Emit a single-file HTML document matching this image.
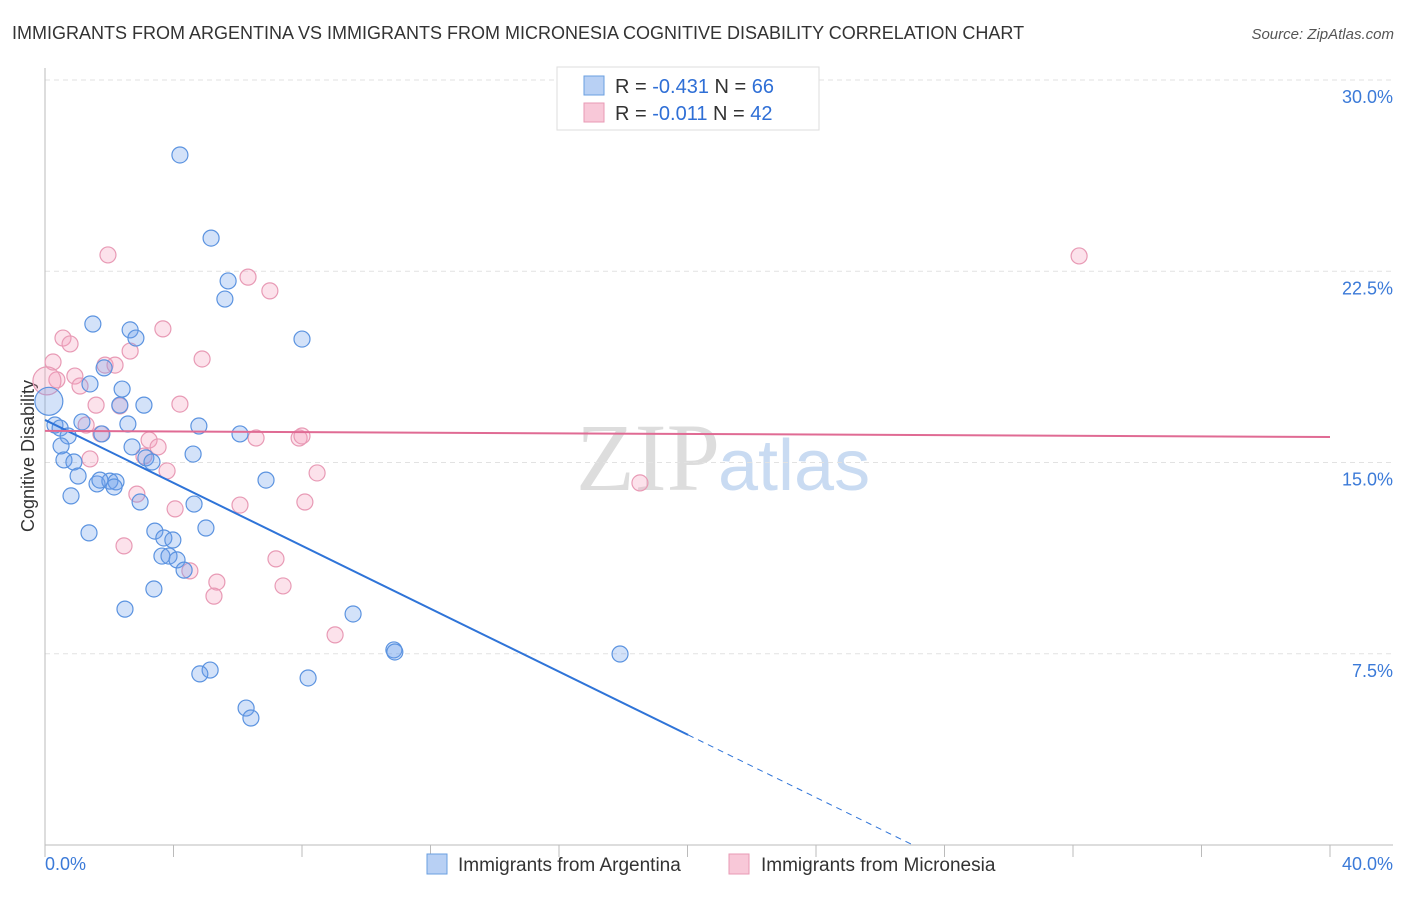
<!DOCTYPE html>
<html><head><meta charset="utf-8"><style>
body{margin:0;background:#fff;font-family:"Liberation Sans",sans-serif;}
</style></head><body>
<svg width="1406" height="892" xmlns="http://www.w3.org/2000/svg" id="chart">
<text x="12" y="39" font-size="18" fill="#333">IMMIGRANTS FROM ARGENTINA VS IMMIGRANTS FROM MICRONESIA COGNITIVE DISABILITY CORRELATION CHART</text>
<text x="1394" y="39" font-size="15" fill="#555" font-style="italic" text-anchor="end">Source: ZipAtlas.com</text>
<text x="720" y="490" font-size="96" fill="#ddd" font-family="Liberation Serif,serif" text-anchor="end">ZIP</text>
<text x="718" y="490" font-size="72" fill="#c9dbf2">atlas</text>
<text transform="translate(34,456) rotate(-90)" font-size="18" fill="#333" text-anchor="middle">Cognitive Disability</text>
<g id="grid"></g><g id="axes"></g><g id="pts"></g><g id="trend"></g>
<g>
<rect x="557" y="67" width="262" height="63" fill="#fff" stroke="#ddd"/>
<rect x="584" y="76" width="20" height="19" fill="#b8d0f4" stroke="#6a9fe0"/>
<rect x="584" y="103" width="20" height="19" fill="#f8c8d8" stroke="#e89ab5"/>
<text x="615" y="93" font-size="20" fill="#333">R = <tspan fill="#2f6fd6">-0.431</tspan>   N = <tspan fill="#2f6fd6">66</tspan></text>
<text x="615" y="120" font-size="20" fill="#333">R = <tspan fill="#2f6fd6">-0.011</tspan>   N = <tspan fill="#2f6fd6">42</tspan></text>
</g>
<g>
<rect x="427" y="854" width="20" height="20" fill="#b8d0f4" stroke="#6a9fe0"/>
<text x="458" y="871" font-size="19" fill="#333">Immigrants from Argentina</text>
<rect x="729" y="854" width="20" height="20" fill="#f8c8d8" stroke="#e89ab5"/>
<text x="761" y="871" font-size="19" fill="#333">Immigrants from Micronesia</text>
</g>
</svg>
<script>
const blueX=[4.20,5.17,5.70,5.60,1.49,2.65,2.83,8.00,1.84,1.40,2.40,2.33,3.08,0.31,1.15,0.47,2.58,4.79,0.72,1.77,6.07,2.71,0.50,3.14,3.33,0.59,0.90,4.61,1.03,1.62,2.02,2.21,2.15,6.88,1.71,2.96,4.64,0.81,3.42,5.01,1.37,3.70,3.98,3.64,3.86,4.11,4.33,3.39,2.49,9.59,10.86,10.89,17.90,5.14,4.82,8.19,6.26,6.41];
const blueY=[27.06,23.80,22.12,21.41,20.43,20.20,19.88,19.84,18.71,18.08,17.88,17.25,17.25,16.47,16.59,16.35,16.51,16.43,16.04,16.12,16.12,15.61,15.65,15.18,15.02,15.10,15.02,15.33,14.47,14.16,14.27,14.24,14.04,14.31,14.31,13.45,13.37,13.69,12.31,12.43,12.24,12.04,11.96,11.33,11.33,11.18,10.78,10.04,9.25,9.06,7.65,7.57,7.49,6.86,6.71,6.55,5.37,4.98];
const pinkX=[1.96,32.19,6.32,7.00,0.56,3.67,0.78,2.65,4.89,0.25,1.87,2.18,0.93,0.37,1.09,1.59,2.33,4.20,1.28,1.74,3.24,3.52,6.57,7.91,8.00,1.40,3.08,3.80,8.47,2.86,8.09,6.07,4.05,2.46,7.19,5.35,7.41,5.26,4.51,9.03,18.52];
const pinkY=[23.14,23.10,22.27,21.73,19.88,20.24,19.65,19.37,19.06,18.94,18.82,18.82,18.39,18.24,18.00,17.25,17.22,17.29,16.47,16.12,15.88,15.61,15.96,15.96,16.04,15.14,15.25,14.67,14.59,13.76,13.45,13.33,13.18,11.73,11.22,10.31,10.16,9.76,10.75,8.24,14.20];
const bigBlue=[0.12,17.4], bigPink=[0.06,18.2];
const yTicks=[7.5,15,22.5,30];
const xTickLabels=["0.0%","40.0%"];
const blueTrend=[16.67,-0.617], blueSolidEnd=20.02;
const pinkTrend=[16.24,-0.006];
const NS="http://www.w3.org/2000/svg";
const sx=v=>45+v*32.125, sy=v=>845-v*25.5;
function mk(tag,attrs,parent){const e=document.createElementNS(NS,tag);for(const k in attrs)e.setAttribute(k,attrs[k]);document.getElementById(parent).appendChild(e);return e;}
yTicks.forEach(t=>{
 const l=mk('line',{x1:45,x2:1393,y1:sy(t),y2:sy(t),stroke:'#e2e2e2','stroke-dasharray':'5,4'},'grid');
 
 
 const tx=mk('text',{x:1393,y:sy(t)+23,'font-size':18,fill:'#3b7ad8','text-anchor':'end'},'grid');
 tx.textContent=t.toFixed(1)+'%';
 
 
});
const ax=mk('line',{x1:45,x2:1393,y1:845,y2:845,stroke:'#bbb'},'axes');


const ay=mk('line',{x1:45,x2:45,y1:68,y2:845,stroke:'#bbb'},'axes');


for(let i=0;i<=10;i++){const t=mk('line',{x1:sx(i*4),x2:sx(i*4),y1:845,y2:857,stroke:'#bbb'},'axes');
 
 }
[[0,'start',45],[40,'end',1393]].forEach((d,i)=>{const t=mk('text',{x:d[2],y:870,'font-size':18,fill:'#3b7ad8','text-anchor':d[1]},'axes');t.textContent=xTickLabels[i];
 
 });
function dot(x,y,r,fill,stroke,name){const c=mk('circle',{cx:sx(x),cy:sy(y),r:r,fill:fill,stroke:stroke,'stroke-width':1.2},'pts');
 
 }
pinkX.forEach((x,i)=>dot(x,pinkY[i],8,'rgba(244,160,190,0.3)','#e89ab5','micronesia-point'));
dot(bigPink[0],bigPink[1],14,'rgba(244,160,190,0.3)','#e89ab5','micronesia-point');
blueX.forEach((x,i)=>dot(x,blueY[i],8,'rgba(110,160,235,0.3)','#5b93e0','argentina-point'));
dot(bigBlue[0],bigBlue[1],14,'rgba(110,160,235,0.3)','#5b93e0','argentina-point');
const bz=-blueTrend[0]/blueTrend[1];
const b1=mk('line',{x1:sx(0),y1:sy(blueTrend[0]),x2:sx(blueSolidEnd),y2:sy(blueTrend[0]+blueTrend[1]*blueSolidEnd),stroke:'#2f74d8','stroke-width':2},'trend');


const b2=mk('line',{x1:sx(blueSolidEnd),y1:sy(blueTrend[0]+blueTrend[1]*blueSolidEnd),x2:sx(bz),y2:sy(0),stroke:'#2f74d8','stroke-width':1,'stroke-dasharray':'6,5'},'trend');


const p1=mk('line',{x1:sx(0),y1:sy(pinkTrend[0]),x2:sx(40),y2:sy(pinkTrend[0]+pinkTrend[1]*40),stroke:'#e06b94','stroke-width':2},'trend');


</script>
</body></html>
